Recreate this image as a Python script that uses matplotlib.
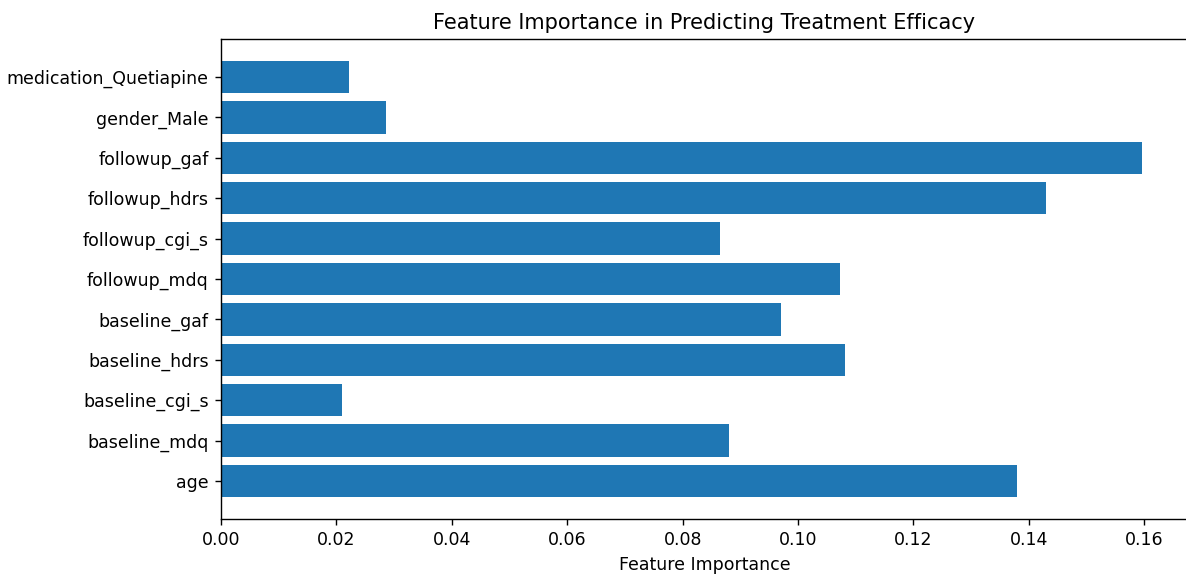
import matplotlib
matplotlib.use("Agg")
import matplotlib.pyplot as plt

features = ["age", "baseline_mdq", "baseline_cgi_s", "baseline_hdrs", "baseline_gaf",
            "followup_mdq", "followup_cgi_s", "followup_hdrs", "followup_gaf",
            "gender_Male", "medication_Quetiapine"]
importances = [0.1380, 0.0881, 0.0210, 0.1082, 0.0971,
               0.1073, 0.0865, 0.1430, 0.1596, 0.0286, 0.0222]

W, H, DPI = 1186, 576, 125
fig = plt.figure(figsize=(W / DPI, H / DPI), dpi=DPI)
ax = fig.add_axes([221/W, 1 - 519/H, 967/W, (519 - 39)/H])
ax.barh(features, importances, color="#1f77b4")
ax.set_xlabel("Feature Importance")
ax.set_title("Feature Importance in Predicting Treatment Efficacy")
fig.savefig("out.png", dpi=DPI)
